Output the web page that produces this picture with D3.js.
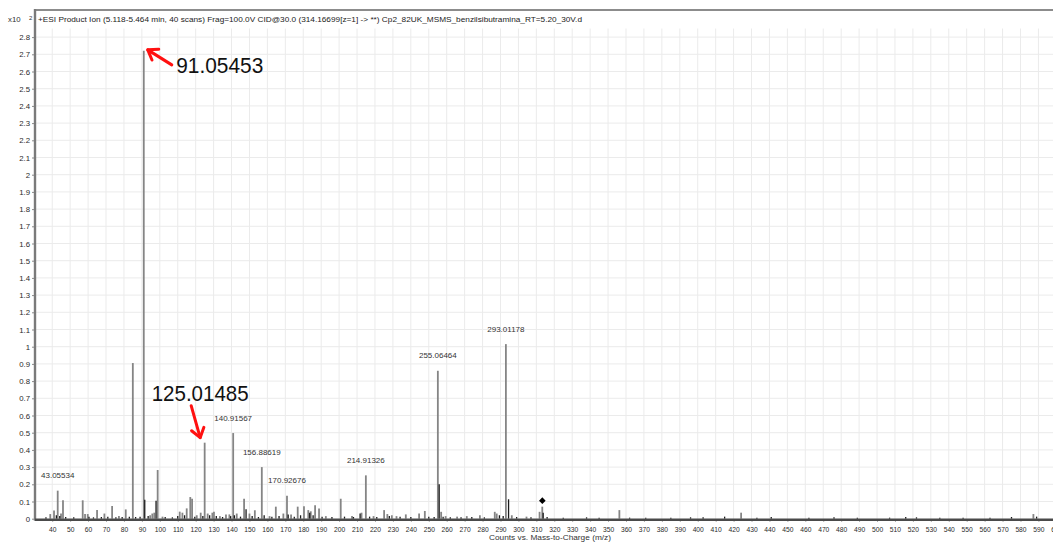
<!DOCTYPE html>
<html>
<head>
<meta charset="utf-8">
<script src="https://cdn.jsdelivr.net/npm/d3@7"></script>
<style>
  html, body { margin: 0; padding: 0; background: #fff; }
  svg { display: block; font-family: "Liberation Sans", Arial, sans-serif; }
</style>
</head>
<body>
<svg id="chart" width="1053" height="543"></svg>
<script>
// Product-ion spectrum (MS/MS) of m/z 314.16699 — centroid sticks.

// Main centroid peaks (gray sticks): m/z and relative abundance (x10^2 counts)
const grayMz = [38.9, 41.0, 43.05534, 44.9, 46.0, 57.0, 58.3, 59.8, 65.0, 69.1, 73.4, 77.2, 81.0,
  84.95, 91.05453, 94.6, 95.8, 96.9, 98.8, 101.5, 111.1, 112.6, 115.0, 117.0, 118.0, 120.6, 122.8,
  125.01485, 126.7, 129.3, 130.2, 133.5, 136.9, 138.8, 140.91567, 142.9, 147.0, 150.0, 153.0,
  156.88619, 161.2, 164.7, 168.9, 170.92676, 173.2, 176.9, 180.4, 182.8, 184.2, 186.6, 188.8,
  192.6, 200.9, 207.2, 212.5, 214.91326, 219.2, 225.1, 226.9, 229.4, 232.0, 237.2, 244.6, 247.8,
  255.06464, 256.9, 259.4, 265.8, 271.2, 278.5, 286.8, 287.9, 293.01178, 296.3, 304.5, 311.8,
  313.3, 356.3, 424.2, 587.2];
const grayInt = [0.027, 0.047, 0.163, 0.03, 0.107, 0.107, 0.027, 0.027, 0.05, 0.03, 0.074, 0.015, 0.054,
  0.905, 2.72, 0.02, 0.03, 0.035, 0.283, 0.012, 0.041, 0.035, 0.06, 0.126, 0.116, 0.02, 0.035,
  0.442, 0.03, 0.035, 0.04, 0.015, 0.025, 0.025, 0.498, 0.03, 0.116, 0.03, 0.049,
  0.30, 0.015, 0.07, 0.03, 0.134, 0.025, 0.07, 0.072, 0.05, 0.043, 0.078, 0.06,
  0.015, 0.116, 0.015, 0.035, 0.252, 0.015, 0.05, 0.027, 0.02, 0.015, 0.025, 0.03, 0.045,
  0.86, 0.04, 0.015, 0.012, 0.015, 0.02, 0.04, 0.03, 1.015, 0.02, 0.012, 0.04,
  0.07, 0.05, 0.035, 0.027];

// Minor / satellite sticks drawn in black
const darkMz = [36.5, 42.3, 44.2, 47.5, 52.0, 60.5, 63.0, 67.4, 71.0, 75.5, 79.0, 83.0, 86.5, 89.0,
  91.6, 93.5, 97.9, 103.0, 107.0, 110.0, 113.8, 119.5, 124.0, 127.8, 131.5, 135.0, 139.5, 141.6,
  145.0, 148.1, 151.5, 155.0, 158.2, 162.5, 166.5, 171.6, 175.0, 178.5, 183.6, 185.5, 190.5, 196.0,
  203.0, 208.0, 211.7, 217.0, 221.0, 228.0, 234.0, 240.0, 250.0, 253.0, 255.8, 258.0, 262.0, 268.0,
  274.0, 281.0, 289.4, 291.5, 294.5, 299.0, 307.0, 313.8, 316.0, 325.0, 338.0, 345.0, 362.0, 371.0,
  385.0, 396.0, 403.0, 415.0, 433.0, 441.0, 462.0, 476.0, 489.0, 507.0, 516.0, 522.0, 535.0, 548.0,
  563.0, 575.0, 589.0];
const darkInt = [0.008, 0.02, 0.015, 0.01, 0.008, 0.012, 0.008, 0.01, 0.012, 0.008, 0.01, 0.012, 0.01, 0.012,
  0.11, 0.015, 0.105, 0.01, 0.008, 0.015, 0.02, 0.012, 0.015, 0.02, 0.015, 0.01, 0.015, 0.02,
  0.012, 0.055, 0.015, 0.01, 0.02, 0.012, 0.015, 0.025, 0.012, 0.02, 0.035, 0.02, 0.012, 0.01,
  0.012, 0.01, 0.03, 0.012, 0.01, 0.015, 0.012, 0.01, 0.012, 0.01, 0.20, 0.012, 0.008, 0.008,
  0.01, 0.008, 0.02, 0.015, 0.113, 0.01, 0.008, 0.035, 0.01, 0.006, 0.008, 0.006, 0.006, 0.006,
  0.006, 0.008, 0.008, 0.012, 0.006, 0.01, 0.006, 0.008, 0.006, 0.006, 0.01, 0.008, 0.006, 0.006,
  0.006, 0.01, 0.012];

// Peaks with a small m/z annotation above the stick
const labelledMz = [43.05534, 140.91567, 156.88619, 170.92676, 214.91326, 255.06464, 293.01178];
// Peaks called out with large text and a red arrow
const calloutMz = [91.05453, 125.01485];
// Precursor ion (marked with a diamond)
const precursorMz = 314.16699;
const precursorPeakMz = 313.3;

// Axis ticks
const xTicks = d3.range(40, 601, 10);
const yTicks = d3.range(0, 29).map(i => +(i / 10).toFixed(1));

const headerText = "+ESI Product Ion (5.118-5.464 min, 40 scans) Frag=100.0V CID@30.0 (314.16699[z=1] -> **) Cp2_82UK_MSMS_benzilsibutramina_RT=5.20_30V.d";
const xTitle = "Counts vs. Mass-to-Charge (m/z)";

// ---------------------------------------------------------------
const svg = d3.select("#chart");
const W = 1053, H = 543;

const x = d3.scaleLinear().domain([30, 620]).range([34.3, 1092.2]);
const y = d3.scaleLinear().domain([0, 2.85]).range([518.7, 28.5]);

const plotLeft = 35, plotTop = 10, baseY = 519.7;

const gray = grayMz.map((m, i) => ({ mz: m, v: grayInt[i] }));
const dark = darkMz.map((m, i) => ({ mz: m, v: darkInt[i] }));
const intensityAt = mz => gray.find(d => d.mz === mz).v;

function fitWidth(sel, w) {
  sel.attr("textLength", w).attr("lengthAdjust", "spacingAndGlyphs");
}

// grid
const grid = svg.append("g");
grid.selectAll("line.v").data(xTicks).join("line")
  .attr("x1", d => x(d)).attr("x2", d => x(d))
  .attr("y1", y(2.85)).attr("y2", baseY)
  .attr("stroke", "#ebebeb").attr("stroke-width", 1);
grid.selectAll("line.h").data(yTicks.slice(1)).join("line")
  .attr("x1", plotLeft).attr("x2", W)
  .attr("y1", d => y(d)).attr("y2", d => y(d))
  .attr("stroke", "#ebebeb").attr("stroke-width", 1);

// axes
const yAxis = svg.append("g")
  .attr("transform", `translate(${plotLeft},0)`)
  .call(d3.axisLeft(y).tickValues(yTicks).tickSize(3).tickSizeOuter(0).tickPadding(2)
    .tickFormat(d3.format("~g")));
yAxis.select(".domain").remove();
yAxis.selectAll(".tick line").attr("stroke", "#8a8a8a");
yAxis.selectAll(".tick text").attr("fill", "#2a2a2a").attr("font-size", 7.8)
  .attr("font-family", "Liberation Sans, Arial, sans-serif");

const xAxis = svg.append("g")
  .attr("transform", `translate(0,${baseY})`)
  .call(d3.axisBottom(x).tickValues(xTicks).tickSize(2).tickSizeOuter(0).tickPadding(5)
    .tickFormat(d3.format("d")));
xAxis.select(".domain").remove();
xAxis.selectAll(".tick line").attr("stroke", "#8a8a8a");
xAxis.selectAll(".tick text").attr("fill", "#2a2a2a").attr("font-size", 7.8)
  .attr("font-family", "Liberation Sans, Arial, sans-serif")
  .each(function () {
    const t = d3.select(this);
    fitWidth(t, this.getComputedTextLength() * 0.86);
  });

// spectrum sticks
svg.append("g").selectAll("line").data(gray).join("line")
  .attr("x1", d => x(d.mz)).attr("x2", d => x(d.mz))
  .attr("y1", y(0)).attr("y2", d => y(d.v))
  .attr("stroke", "#858585").attr("stroke-width", 1.8);
svg.append("g").selectAll("line").data(dark).join("line")
  .attr("x1", d => x(d.mz)).attr("x2", d => x(d.mz))
  .attr("y1", y(0)).attr("y2", d => y(d.v))
  .attr("stroke", "#1a1a1a").attr("stroke-width", 1.3);

// frame: top border, left axis, baseline
svg.append("line").attr("x1", plotLeft).attr("x2", W).attr("y1", plotTop).attr("y2", plotTop)
  .attr("stroke", "#8c8c8c").attr("stroke-width", 2);
svg.append("line").attr("x1", plotLeft).attr("x2", plotLeft).attr("y1", plotTop - 1).attr("y2", baseY + 1)
  .attr("stroke", "#7a7a7a").attr("stroke-width", 2.4);
svg.append("line").attr("x1", plotLeft).attr("x2", W).attr("y1", baseY).attr("y2", baseY)
  .attr("stroke", "#4a4a4a").attr("stroke-width", 2.6);

// header
const header = svg.append("text").attr("x", 38).attr("y", 22)
  .attr("font-size", 7.6).attr("fill", "#222").text(headerText);
fitWidth(header, 544);

// exponent label (x10^2)
svg.append("text").attr("x", 8).attr("y", 22).attr("font-size", 7.8).attr("fill", "#333").text("x10");
svg.append("text").attr("x", 29).attr("y", 19.5).attr("font-size", 6).attr("fill", "#333").text("2");

// x axis title
const title = svg.append("text").attr("x", 550).attr("y", 540)
  .attr("text-anchor", "middle").attr("font-size", 7.6).attr("fill", "#333").text(xTitle);
fitWidth(title, 122);

// small m/z labels
const fmt = d3.format(".5f");
svg.append("g").selectAll("text").data(labelledMz).join("text")
  .attr("x", d => x(d)).attr("y", d => y(intensityAt(d)) - 12.5)
  .attr("text-anchor", "middle").attr("font-size", 8).attr("fill", "#333")
  .text(d => fmt(d));

// precursor diamond
const pd = { x: x(precursorMz) - 1.5, y: y(intensityAt(precursorPeakMz)) - 6 };
svg.append("path")
  .attr("d", `M${pd.x},${pd.y - 3.3}L${pd.x + 3.3},${pd.y}L${pd.x},${pd.y + 3.3}L${pd.x - 3.3},${pd.y}Z`)
  .attr("fill", "#000");

// call-outs with red arrows
function arrow(x1, y1, x2, y2) {
  const a = Math.atan2(y2 - y1, x2 - x1);
  const len = 11, spread = 0.62;
  const g = svg.append("g").attr("stroke", "#ff1010").attr("stroke-width", 3)
    .attr("stroke-linecap", "round").attr("stroke-linejoin", "round").attr("fill", "none");
  g.append("line").attr("x1", x1).attr("y1", y1).attr("x2", x2).attr("y2", y2);
  g.append("path").attr("d",
    `M${x2 - len * Math.cos(a - spread)},${y2 - len * Math.sin(a - spread)}` +
    `L${x2},${y2}` +
    `L${x2 - len * Math.cos(a + spread)},${y2 - len * Math.sin(a + spread)}`);
}

{
  const m = calloutMz[0];
  const px = x(m), py = y(intensityAt(m));
  arrow(px + 28, py + 14, px + 4, py - 1);
  const t = svg.append("text").attr("x", px + 32.5).attr("y", py + 22)
    .attr("font-size", 22).attr("fill", "#111").text(fmt(m));
  fitWidth(t, 87);
}
{
  const m = calloutMz[1];
  const px = x(m), py = y(intensityAt(m));
  arrow(px - 13.5, py - 37, px - 4.5, py - 5);
  const t = svg.append("text").attr("x", px - 53).attr("y", py - 42)
    .attr("font-size", 22).attr("fill", "#111").text(fmt(m));
  fitWidth(t, 97);
}
</script>
</body>
</html>
